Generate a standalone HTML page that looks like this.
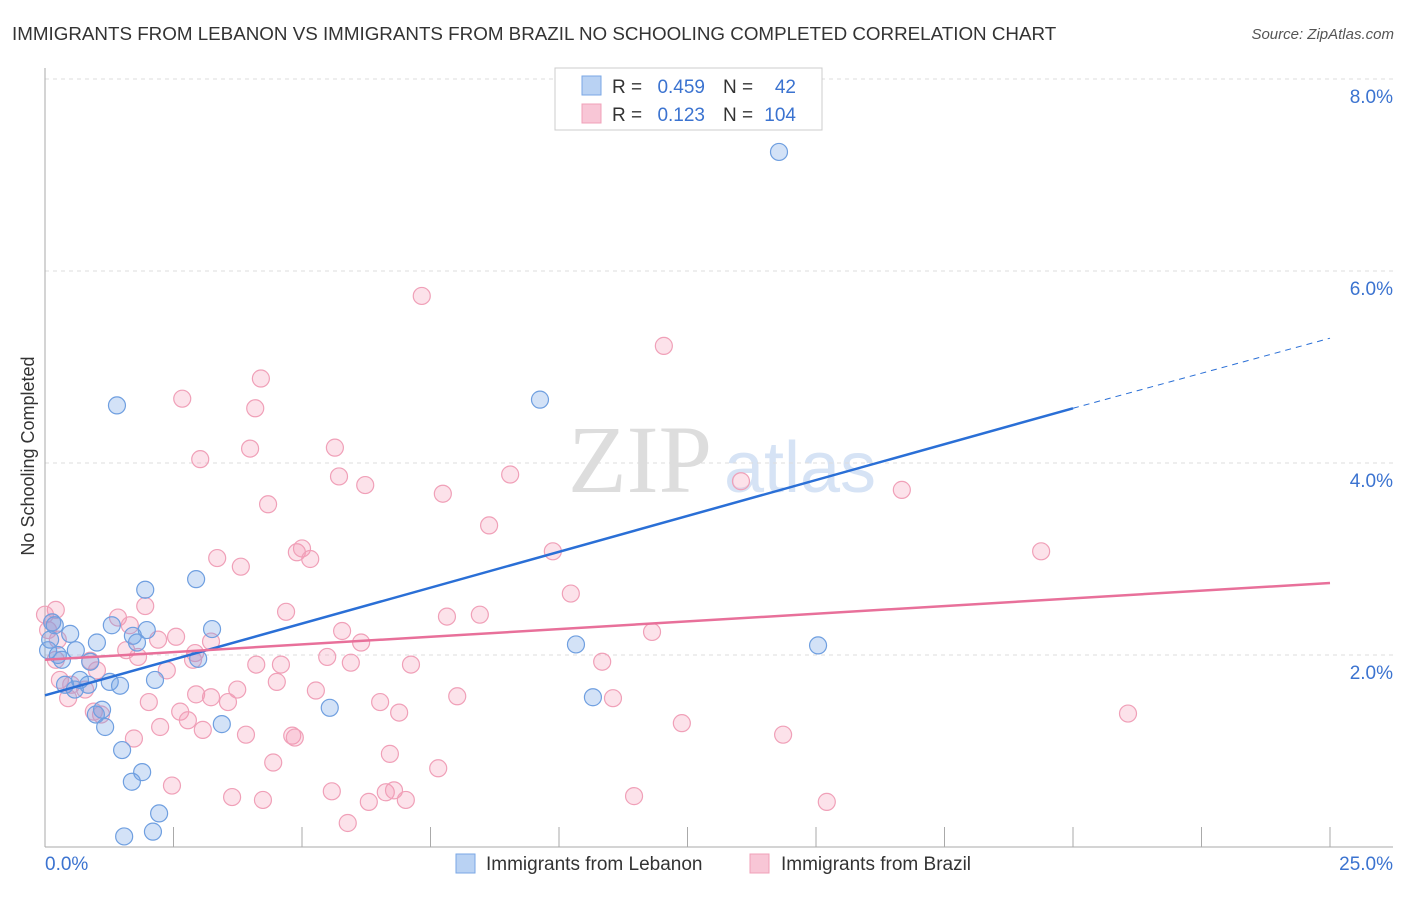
<!DOCTYPE html>
<html><head><meta charset="utf-8"><style>
body{margin:0;background:#fff;font-family:"Liberation Sans",sans-serif}
</style></head><body>
<svg width="1406" height="892" xmlns="http://www.w3.org/2000/svg" id="chart">
<text x="12" y="40" font-size="18.8" fill="#333">IMMIGRANTS FROM LEBANON VS IMMIGRANTS FROM BRAZIL NO SCHOOLING COMPLETED CORRELATION CHART</text>
<text x="1394" y="39" font-size="15" fill="#555" font-style="italic" text-anchor="end">Source: ZipAtlas.com</text>
<text x="640" y="492" font-size="96" fill="#ddd" font-family="Liberation Serif" text-anchor="middle">ZIP</text>
<text x="800" y="492" font-size="72" fill="#d6e3f5" text-anchor="middle">atlas</text>
<g id="grid"></g><g id="axes"></g><g id="pts"></g><g id="lines"></g>
<text x="34" y="456" font-size="18" fill="#333" text-anchor="middle" transform="rotate(-90 34 456)">No Schooling Completed</text>
<g>
<rect x="555" y="68" width="267" height="62" fill="#fff" stroke="#ccc"/>
<rect x="582" y="76" width="19" height="19" fill="#b9d2f3" stroke="#7aa7e6"/>
<rect x="582" y="104" width="19" height="19" fill="#f8c6d6" stroke="#f0a0b8"/>
<g font-size="19" fill="#333">
<text x="612" y="93">R =</text><text x="705" y="93" fill="#3b73d0" text-anchor="end">0.459</text>
<text x="723" y="93">N =</text><text x="796" y="93" fill="#3b73d0" text-anchor="end">42</text>
<text x="612" y="121">R =</text><text x="705" y="121" fill="#3b73d0" text-anchor="end">0.123</text>
<text x="723" y="121">N =</text><text x="796" y="121" fill="#3b73d0" text-anchor="end">104</text>
</g>
</g>
<g>
<rect x="456" y="854" width="19" height="19" fill="#b9d2f3" stroke="#7aa7e6"/>
<text x="486" y="870" font-size="19" fill="#333">Immigrants from Lebanon</text>
<rect x="750" y="854" width="19" height="19" fill="#f8c6d6" stroke="#f0a0b8"/>
<text x="781" y="870" font-size="19" fill="#333">Immigrants from Brazil</text>
</g>
</svg>
<script>
const yTicks=[2,4,6,8];
const yTickLabels=["2.0%","4.0%","6.0%","8.0%"];
const xTickLabels=["0.0%","25.0%"];
const bluePx=[[779,152],[117,405],[540,400],[196,579],[145,590],[52,622],[70,634],[55,625],[97,643],[76,650],[133,636],[147,630],[212,629],[137,643],[198,659],[62,660],[48,650],[90,662],[80,680],[88,685],[110,682],[120,686],[155,680],[102,710],[96,715],[105,727],[222,724],[330,708],[122,750],[142,772],[132,782],[159,813],[124,836],[153,832],[576,644],[818,645],[593,697],[58,655],[75,690],[112,625],[50,640],[65,685]];
const pinkPx=[[422,296],[664,346],[261,379],[182,399],[255,408],[200,459],[250,449],[335,448],[339,476],[365,485],[510,475],[443,494],[268,504],[741,481],[902,490],[489,525],[217,558],[241,567],[297,552],[302,548],[310,559],[553,551],[1041,551],[571,594],[145,606],[118,618],[286,612],[447,617],[480,615],[130,625],[176,637],[158,640],[342,631],[652,632],[211,642],[361,643],[126,650],[195,653],[193,660],[138,657],[56,660],[90,661],[256,665],[281,665],[327,657],[351,663],[411,665],[602,662],[97,670],[167,670],[60,680],[71,685],[85,690],[277,682],[237,690],[196,694],[211,697],[316,691],[457,696],[613,698],[68,698],[149,702],[228,702],[380,702],[399,713],[180,712],[188,720],[1128,714],[101,715],[94,712],[160,727],[203,730],[682,723],[292,736],[295,738],[134,739],[246,735],[783,735],[390,754],[273,763],[438,768],[172,786],[332,791],[386,792],[394,790],[232,797],[263,800],[369,802],[406,800],[634,796],[827,802],[348,823],[48,630],[52,622],[58,640],[56,610],[45,615]];
const blueX=bluePx.map(p=>+((p[0]-45)/51.4).toFixed(2)), blueY=bluePx.map(p=>+((847-p[1])/96).toFixed(2));
const pinkX=pinkPx.map(p=>+((p[0]-45)/51.4).toFixed(2)), pinkY=pinkPx.map(p=>+((847-p[1])/96).toFixed(2));
const blueTrend=[[0,1.58],[20,4.57],[25,5.3]];
const pinkTrend=[[0,1.95],[25,2.75]];
const X=v=>45+v*51.4, Y=v=>847-v*96;
const NS="http://www.w3.org/2000/svg";
function mk(t,a,parent){const e=document.createElementNS(NS,t);for(const k in a)e.setAttribute(k,a[k]);document.getElementById(parent).appendChild(e);return e;}
yTicks.forEach((t,i)=>{
 const l=mk('line',{x1:45,x2:1393,y1:Y(t),y2:Y(t),stroke:'#ddd','stroke-dasharray':'4,4'},'grid');
 
 
 const tx=mk('text',{x:1393,y:Y(t)+24,'font-size':19,fill:'#3b73d0','text-anchor':'end'},'grid');
 tx.textContent=yTickLabels[i];
 
 
});
const ax=mk('line',{x1:45,x2:45,y1:68,y2:847,stroke:'#aaa'},'axes');


const bx=mk('line',{x1:45,x2:1393,y1:847,y2:847,stroke:'#aaa'},'axes');


for(let i=1;i<=10;i++){const t=mk('line',{x1:X(i*2.5),x2:X(i*2.5),y1:827,y2:847,stroke:'#aaa'},'axes');
 
 }
[[45,'start',0],[1393,'end',1]].forEach(a=>{const t=mk('text',{x:a[0],y:870,'font-size':19,fill:'#3b73d0','text-anchor':a[1]},'axes');t.textContent=xTickLabels[a[2]];
 
 });
pinkX.forEach((x,i)=>{const c=mk('circle',{cx:X(x),cy:Y(pinkY[i]),r:8.5,fill:'rgba(244,150,180,0.28)',stroke:'#f0a0b8','stroke-width':1.2},'pts');
 
 });
blueX.forEach((x,i)=>{const c=mk('circle',{cx:X(x),cy:Y(blueY[i]),r:8.5,fill:'rgba(110,160,230,0.3)',stroke:'#6f9fe0','stroke-width':1.2},'pts');
 
 });
const b1=mk('line',{x1:X(blueTrend[0][0]),y1:Y(blueTrend[0][1]),x2:X(blueTrend[1][0]),y2:Y(blueTrend[1][1]),stroke:'#2a6fd6','stroke-width':2.5},'lines');


const b2=mk('line',{x1:X(blueTrend[1][0]),y1:Y(blueTrend[1][1]),x2:X(blueTrend[2][0]),y2:Y(blueTrend[2][1]),stroke:'#2a6fd6','stroke-width':1,'stroke-dasharray':'6,5'},'lines');


const p1=mk('line',{x1:X(pinkTrend[0][0]),y1:Y(pinkTrend[0][1]),x2:X(pinkTrend[1][0]),y2:Y(pinkTrend[1][1]),stroke:'#e8709a','stroke-width':2.5},'lines');


</script>
</body></html>
